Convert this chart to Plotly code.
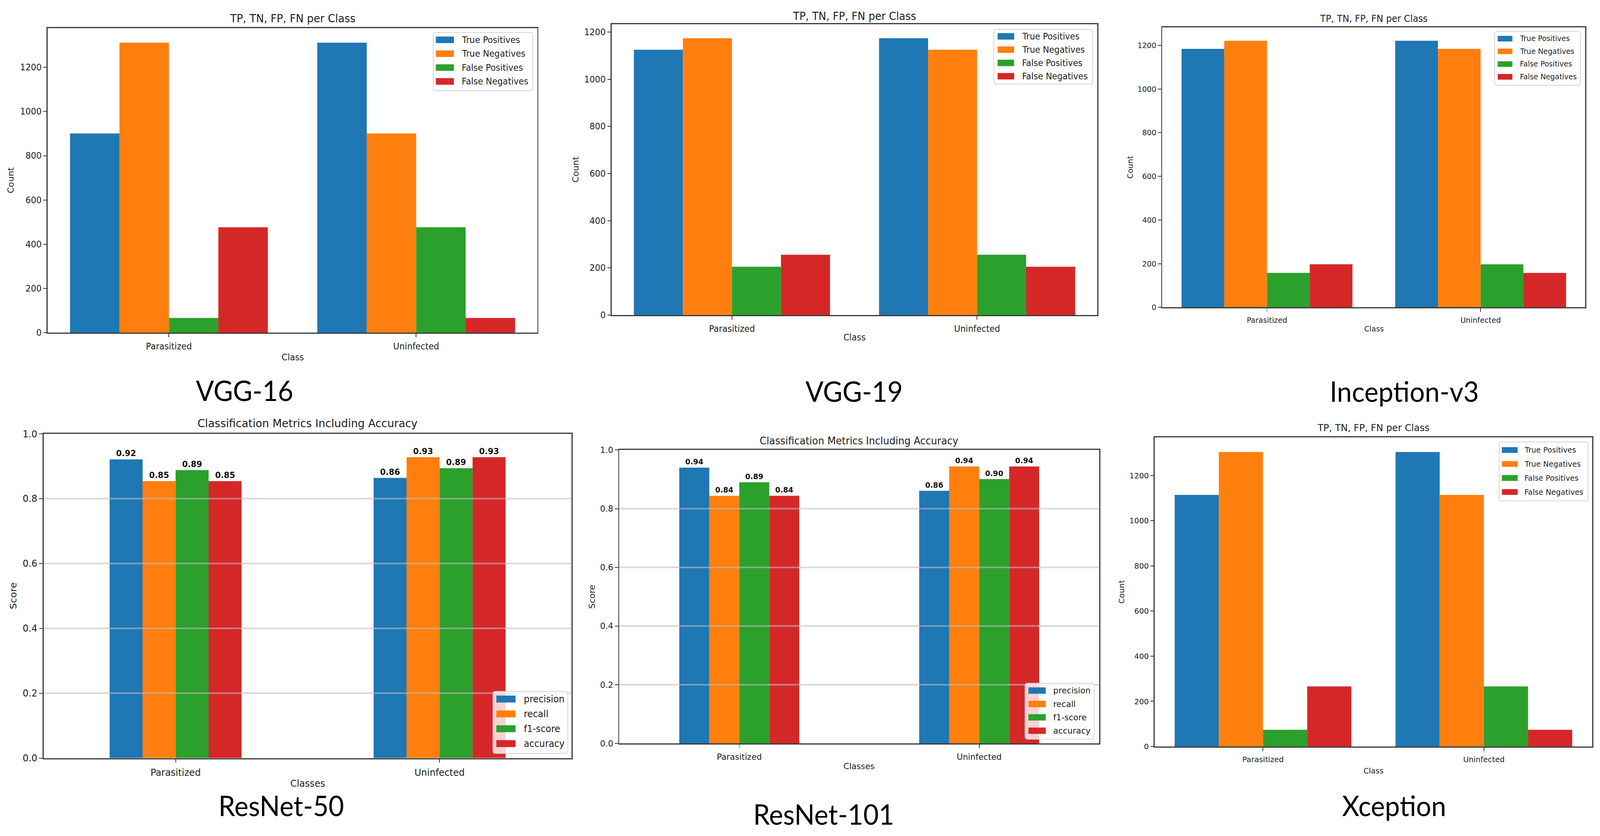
import plotly.graph_objects as go

W, H = 4255, 2139

# ---------------- data ----------------
classes = ["Parasitized", "Uninfected"]
count_series = ["True Positives", "True Negatives", "False Positives", "False Negatives"]
metric_series = ["precision", "recall", "f1-score", "accuracy"]
colors = ["#1f77b4", "#ff7f0e", "#2ca02c", "#d62728"]

# counts per class [Parasitized, Uninfected]
vgg16_tp = [901, 1311]
vgg16_tn = [1311, 901]
vgg16_fp = [67, 477]
vgg16_fn = [477, 67]

vgg19_tp = [1125, 1174]
vgg19_tn = [1174, 1125]
vgg19_fp = [205, 256]
vgg19_fn = [256, 205]

incv3_tp = [1184, 1221]
incv3_tn = [1221, 1184]
incv3_fp = [158, 197]
incv3_fn = [197, 158]

xcep_tp = [1114, 1304]
xcep_tn = [1304, 1114]
xcep_fp = [74, 266]
xcep_fn = [266, 74]

# metrics per class [Parasitized, Uninfected]
r50_precision = [0.921, 0.864]
r50_recall = [0.854, 0.928]
r50_f1 = [0.888, 0.894]
r50_accuracy = [0.854, 0.928]

r101_precision = [0.940, 0.861]
r101_recall = [0.844, 0.944]
r101_f1 = [0.890, 0.901]
r101_accuracy = [0.844, 0.944]

count_ticks = [0, 200, 400, 600, 800, 1000, 1200]
score_ticks = [0.0, 0.2, 0.4, 0.6, 0.8, 1.0]

captions = ["VGG-16", "VGG-19", "Inception-v3", "ResNet-50", "ResNet-101", "Xception"]

# ---------------- panel layout (pixels) ----------------
TEXT = "#1e1e1e"
SPINE = "#3a3a3a"
FONT = "DejaVu Sans, Verdana, sans-serif"
CAPFONT = "Lato, Carlito, Calibri, sans-serif"

panels = [
    dict(kind="count", series=[vgg16_tp, vgg16_tn, vgg16_fp, vgg16_fn], box=(127, 59, 1429, 849),
         title_y=34, xt_y=912, yt_x=28, tick=22.5, ttl=28, cap=(650, 998),
         leg=(1152, 70, 1417, 221, 89, 36, 1159, 48, 1226, 22.6)),
    dict(kind="count", series=[vgg19_tp, vgg19_tn, vgg19_fp, vgg19_fn], box=(1627, 49, 2918, 803),
         title_y=27, xt_y=861, yt_x=1531, tick=22.5, ttl=27.5, cap=(2271, 1000),
         leg=(2643, 62, 2906, 204, 80, 34.5, 2653, 44, 2716, 22.3)),
    dict(kind="count", series=[incv3_tp, incv3_tn, incv3_fp, incv3_fn], box=(3091, 57, 4216, 783),
         title_y=34, xt_y=839, yt_x=3006, tick=19.8, ttl=24, cap=(3734, 1000),
         leg=(3975, 67, 4203, 207, 86, 33, 3983, 39, 4040, 19.3)),
    dict(kind="score", series=[r50_precision, r50_recall, r50_f1, r50_accuracy], box=(116, 1111, 1520, 1952),
         title_y=1084, xt_y=2018, yt_x=35, tick=24.6, ttl=28.8, cap=(748, 2075), lab=21.5,
         leg=(1311, 1779, 1510, 1940, 1799, 38.5, 1320, 51, 1391, 24)),
    dict(kind="score", series=[r101_precision, r101_recall, r101_f1, r101_accuracy], box=(1647, 1153, 2923, 1914),
         title_y=1129, xt_y=1973, yt_x=1575, tick=22, ttl=26, cap=(2190, 2097), lab=19.5,
         leg=(2726, 1758, 2910, 1903, 1777, 34.7, 2735, 46, 2799, 22)),
    dict(kind="count", series=[xcep_tp, xcep_tn, xcep_fp, xcep_fn], box=(3071, 1120, 4234, 1922),
         title_y=1095, xt_y=1985, yt_x=2983, tick=20.3, ttl=25, cap=(3707, 2075),
         leg=(3987, 1132, 4223, 1285, 1153, 36.3, 3994, 42, 4052, 20)),
]


def fx(v):
    return v / W


def fy(v):
    return 1 - v / H


def rounded_rect(x0, y0, x1, y1, r):
    """SVG path (paper coords) of a rounded rectangle given in pixel coords (y down)."""
    pts = [
        f"M {fx(x0 + r)},{fy(y0)}", f"L {fx(x1 - r)},{fy(y0)}", f"Q {fx(x1)},{fy(y0)} {fx(x1)},{fy(y0 + r)}",
        f"L {fx(x1)},{fy(y1 - r)}", f"Q {fx(x1)},{fy(y1)} {fx(x1 - r)},{fy(y1)}",
        f"L {fx(x0 + r)},{fy(y1)}", f"Q {fx(x0)},{fy(y1)} {fx(x0)},{fy(y1 - r)}",
        f"L {fx(x0)},{fy(y0 + r)}", f"Q {fx(x0)},{fy(y0)} {fx(x0 + r)},{fy(y0)}", "Z",
    ]
    return " ".join(pts)


fig = go.Figure()
annotations = []
shapes = []
layout_axes = {}

for i, p in enumerate(panels, start=1):
    xa = "x" if i == 1 else f"x{i}"
    ya = "y" if i == 1 else f"y{i}"
    xkey = "xaxis" if i == 1 else f"xaxis{i}"
    ykey = "yaxis" if i == 1 else f"yaxis{i}"
    L, T, R, B = p["box"]
    is_count = p["kind"] == "count"
    names = count_series if is_count else metric_series
    n = len(p["series"])
    bw = 0.2 if is_count else 0.125
    start = -bw * n / 2

    for j, vals in enumerate(p["series"]):
        kw = {}
        if not is_count:
            kw = dict(text=[f"{v:.2f}" for v in vals], textposition="outside",
                      textfont=dict(family=FONT, size=p["lab"], color="#111", weight="bold"),
                      cliponaxis=False, constraintext="none")
        fig.add_trace(go.Bar(
            x=classes, y=vals, name=names[j], marker=dict(color=colors[j], line=dict(width=0)),
            width=bw, offset=start + j * bw, xaxis=xa, yaxis=ya, showlegend=False, **kw))

    if is_count:
        ymax = 1.05 * max(max(s) for s in p["series"])
        yticks = count_ticks
        ytext = [str(t) for t in yticks]
        xr = [-0.49, 1.49]
        title = "TP, TN, FP, FN per Class"
        xtitle, ytitle = "Class", "Count"
    else:
        ymax = 1.0
        yticks = score_ticks
        ytext = [f"{t:.1f}" for t in yticks]
        xr = [-0.5, 1.5]
        title = "Classification Metrics Including Accuracy"
        xtitle, ytitle = "Classes", "Score"
        for t in yticks[1:-1]:
            shapes.append(dict(type="line", xref=f"{xa} domain", yref=ya, x0=0, x1=1, y0=t, y1=t,
                               line=dict(color="rgba(190,190,190,0.6)", width=4), layer="above"))

    common = dict(showline=True, mirror=True, linecolor=SPINE, linewidth=2.5, ticks="outside",
                  ticklen=9, tickwidth=2, tickcolor=SPINE, showgrid=False, zeroline=False,
                  tickfont=dict(family=FONT, size=p["tick"], color=TEXT))
    layout_axes[xkey] = dict(domain=[fx(L), fx(R)], anchor=ya, type="category", range=xr,
                             ticklabelstandoff=4, **common)
    layout_axes[ykey] = dict(domain=[fy(B), fy(T)], anchor=xa, range=[0, ymax],
                             tickvals=yticks, ticktext=ytext, **common)

    cx = (L + R) / 2
    annotations.append(dict(text=title, x=fx(cx), y=fy(p["title_y"]), xref="paper", yref="paper",
                            showarrow=False, xanchor="center", yanchor="middle",
                            font=dict(family=FONT, size=p["ttl"], color=TEXT)))
    annotations.append(dict(text=xtitle, x=fx(cx), y=fy(p["xt_y"]), xref="paper", yref="paper",
                            showarrow=False, xanchor="center", yanchor="middle",
                            font=dict(family=FONT, size=p["tick"], color=TEXT)))
    annotations.append(dict(text=ytitle, x=fx(p["yt_x"]), y=fy((T + B) / 2), xref="paper", yref="paper",
                            showarrow=False, xanchor="center", yanchor="middle", textangle=-90,
                            font=dict(family=FONT, size=p["tick"], color=TEXT)))
    annotations.append(dict(text=captions[i - 1], x=fx(p["cap"][0]), y=fy(p["cap"][1]), xref="paper",
                            yref="paper", showarrow=False, xanchor="center", yanchor="middle",
                            font=dict(family=CAPFONT, size=71, color="#000")))

    # legend (drawn manually to match matplotlib style)
    bl, bt, br, bb, r0, step, sl, sw, tl, fs = p["leg"]
    shapes.append(dict(type="path", xref="paper", yref="paper", path=rounded_rect(bl, bt, br, bb, 7),
                       fillcolor="rgba(255,255,255,0.8)", line=dict(color="#d4d4d4", width=2), layer="above"))
    sh = fs * 0.75
    for j, nm in enumerate(names):
        ry = r0 + j * step
        shapes.append(dict(type="rect", xref="paper", yref="paper", x0=fx(sl), x1=fx(sl + sw),
                           y0=fy(ry + sh / 2), y1=fy(ry - sh / 2), fillcolor=colors[j],
                           line=dict(width=0), layer="above"))
        annotations.append(dict(text=nm, x=fx(tl), y=fy(ry), xref="paper", yref="paper", showarrow=False,
                                xanchor="left", yanchor="middle",
                                font=dict(family=FONT, size=fs, color=TEXT)))

fig.update_layout(
    width=W, height=H, autosize=False,
    margin=dict(l=0, r=0, t=0, b=0),
    paper_bgcolor="white", plot_bgcolor="white",
    barmode="overlay", showlegend=False,
    annotations=annotations, shapes=shapes,
    **layout_axes,
)

# fit the fixed-size figure exactly into the browser viewport
fit_js = (
    "var gd=document.getElementById('{plot_id}');"
    "document.documentElement.style.margin='0';document.body.style.margin='0';"
    "document.documentElement.style.overflow='hidden';document.body.style.overflow='hidden';"
    f"var kx=window.innerWidth/{W}, ky=window.innerHeight/{H};"
    "gd.style.transformOrigin='0 0';"
    "gd.style.transform='scale('+kx+','+ky+')';"
)

fig.write_html("out.html", config=dict(displayModeBar=False), post_script=fit_js)
